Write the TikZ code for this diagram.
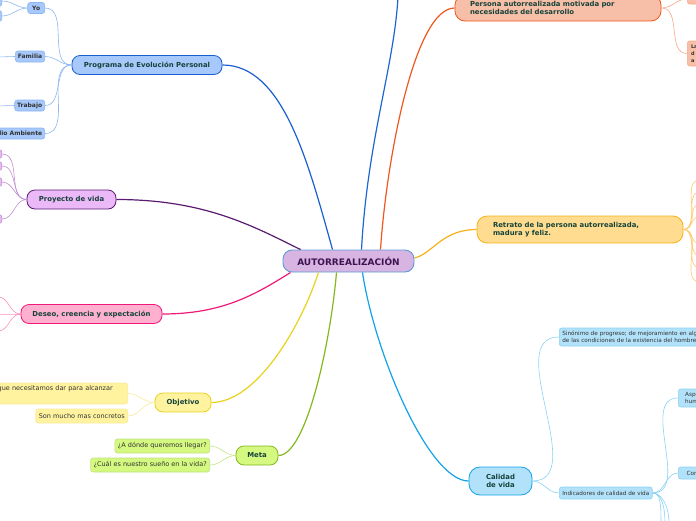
\documentclass[tikz,border=0pt]{standalone}
\usepackage{fontspec}
\setmainfont{DejaVu Sans}
\usetikzlibrary{positioning, calc}
\definecolor{RootFill}{HTML}{D8B4E2}
\definecolor{RootLine}{HTML}{5B9BD8}
\definecolor{RootText}{HTML}{3C1450}
\definecolor{MainText}{HTML}{15433A}
\definecolor{LeafText}{HTML}{333333}
\definecolor{ProgFill}{HTML}{A6C8FA}
\definecolor{ProgLine}{HTML}{1A5FD0}
\definecolor{ProgTwig}{HTML}{8DB6F0}
\definecolor{ProyFill}{HTML}{EBB8F8}
\definecolor{ProyLine}{HTML}{5A1A72}
\definecolor{ProyTwig}{HTML}{BE90D0}
\definecolor{DesFill}{HTML}{FFB0CF}
\definecolor{DesLine}{HTML}{F01878}
\definecolor{DesTwig}{HTML}{F890C0}
\definecolor{ObjFill}{HTML}{FFF3A0}
\definecolor{ObjLine}{HTML}{E8D21C}
\definecolor{ObjTwig}{HTML}{F8EA98}
\definecolor{MetaFill}{HTML}{D4F880}
\definecolor{MetaLine}{HTML}{84B81C}
\definecolor{MetaTwig}{HTML}{C0E480}
\definecolor{CalFill}{HTML}{B2E2FA}
\definecolor{CalLine}{HTML}{12A2E8}
\definecolor{CalTwig}{HTML}{8AD2F4}
\definecolor{RetFill}{HTML}{FFDC90}
\definecolor{RetLine}{HTML}{F8B018}
\definecolor{RetTwig}{HTML}{FCCC70}
\definecolor{PersFill}{HTML}{F8BFA8}
\definecolor{PersLine}{HTML}{F0561E}
\definecolor{PersTwig}{HTML}{F8A888}
\definecolor{TopBlue}{HTML}{1C66D4}

\begin{document}
\begin{tikzpicture}[
    x=1pt, y=-1pt,
    root/.style={draw=RootLine, fill=RootFill, line width=0.9pt, rounded corners=9pt,
        minimum width=131pt, minimum height=22pt, inner sep=0pt, text=RootText,
        font=\bfseries\fontsize{9}{10}\selectfont},
    branch/.style 2 args={draw=#2, fill=#1, line width=0.8pt, rounded corners=8pt,
        minimum height=19pt, inner sep=0pt, text=MainText,
        font=\bfseries\fontsize{6.9}{8.6}\selectfont},
    leaf/.style 2 args={draw=#2, fill=#1, line width=0.6pt, rounded corners=2.5pt,
        minimum height=14pt, inner xsep=3pt, inner ysep=0pt, text=LeafText,
        font=\fontsize{6.5}{8}\selectfont},
    leafb/.style={leaf={ProgFill}{ProgTwig}, minimum height=11pt, inner xsep=2.5pt,
        font=\bfseries\fontsize{6}{7}\selectfont},
    tiny/.style={leaf={CalFill}{CalTwig}, minimum height=12pt, inner xsep=3pt,
        font=\fontsize{5.7}{6.8}\selectfont},
    link/.style={line width=1.2pt},
    twig/.style={line width=0.6pt},
]
\useasboundingbox (0,0) rectangle (696,520);
\clip (0,0) rectangle (696,520);

% ===== nodo central y ramas =====
\node[root] (cent) at (348.5,261) {AUTORREALIZACIÓN};
\node[branch={ProgFill}{ProgLine}, minimum width=150pt] (prog) at (147,65) {Programa de Evolución Personal};
\node[branch={ProyFill}{ProyLine}, minimum width=89pt] (proy) at (71.5,199.5) {Proyecto de vida};
\node[branch={DesFill}{DesLine}, minimum width=141pt] (deseo) at (91.5,314) {Deseo, creencia y expectación};
\node[branch={ObjFill}{ObjLine}, minimum width=56pt] (obj) at (183,402.5) {Objetivo};
\node[branch={MetaFill}{MetaLine}, minimum width=42pt] (meta) at (257,455.5) {Meta};
\node[branch={CalFill}{CalLine}, minimum width=63pt, minimum height=28pt, rounded corners=11pt,
    align=center] (cal) at (500.5,481) {Calidad\\de vida};
\node[branch={RetFill}{RetLine}, minimum width=206pt, minimum height=27pt, rounded corners=10pt,
    text width=174pt, align=left] (retr) at (580,229.5) {Retrato de la persona autorrealizada,\\madura y feliz.};
\node[branch={PersFill}{PersLine}, minimum width=206pt, minimum height=26pt, rounded corners=10pt,
    text width=176pt, align=left] (pers) at (558,8) {Persona autorrealizada motivada por\\necesidades del desarrollo};
\coordinate (arriba) at (398,-3);

\draw[link, ProgLine] (prog.east) .. controls +(60,0) and +(-25,-90) .. ($(cent.north)+(-16,0)$);
\draw[link, ProyLine] (proy.east) .. controls +(90,0) and +(-45,-22) .. ($(cent.north west)+(18,0)$);
\draw[link, DesLine] (deseo.east) .. controls +(60,0) and +(-35,22) .. ($(cent.south west)+(8,0)$);
\draw[link, ObjLine] (obj.east) .. controls +(45,0) and +(-18,55) .. ($(cent.south)+(-30,0)$);
\draw[link, MetaLine] (meta.east) .. controls +(28,0) and +(-6,70) .. ($(cent.south)+(-12,0)$);
\draw[link, CalLine] (cal.west) .. controls +(-40,0) and +(12,80) .. ($(cent.south)+(14,0)$);
\draw[link, RetLine] (retr.west) .. controls +(-35,0) and +(18,-4) .. ($(cent.east)+(0,-3)$);
\draw[link, PersLine] (pers.west) .. controls +(-40,0) and +(6,-90) .. ($(cent.north)+(32,0)$);
\draw[link, TopBlue] ($(cent.north)+(13,0)$) .. controls +(6,-110) and +(-4,70) .. (arriba);

% ===== Programa de Evolución Personal =====
\node[leafb, anchor=east, minimum width=17pt] (yo) at (45,8) {Yo};
\node[leafb, anchor=east] (fam) at (45,56.5) {Familia};
\node[leafb, anchor=east] (trab) at (45,105.5) {Trabajo};
\node[leafb, anchor=east] (medio) at (45,133.5) {Medio Ambiente};
\node[leafb, anchor=east, minimum width=12pt] (yoa) at (2,1) {};
\node[leafb, anchor=east, minimum width=12pt] (yob) at (2,16) {};
\coordinate (famx) at (-2,57);
\coordinate (trabx) at (-2,106);
\foreach \h in {yo,fam,trab,medio}
    \draw[twig, ProgTwig] (prog.west) to[out=180,in=0] (\h.east);
\draw[twig, ProgTwig] (yo.west) to[out=180,in=0] (yoa.east);
\draw[twig, ProgTwig] (yo.west) to[out=180,in=0] (yob.east);
\draw[twig, ProgTwig] (fam.west) -- (famx);
\draw[twig, ProgTwig] (trab.west) -- (trabx);

% ===== Proyecto de vida =====
\foreach \i/\yy in {1/154,2/166,3/182,4/219}{
    \node[leaf={ProyFill}{ProyTwig}, anchor=east, minimum width=14pt, minimum height=9pt] (pv\i) at (2,\yy) {};
    \draw[twig, ProyTwig] (proy.west) to[out=180,in=0] (pv\i.east);
}

% ===== Deseo, creencia y expectación =====
\foreach \i/\yy in {1/297,2/314,3/331}{
    \coordinate (dx\i) at (-2,\yy);
    \draw[twig, DesTwig] (deseo.west) to[out=180,in=0] (dx\i);
}

% ===== Objetivo =====
\node[leaf={ObjFill}{ObjTwig}, anchor=east, minimum height=21pt, text width=127pt, align=left]
    (ob1) at (128,393.5) {que necesitamos dar para alcanzar\\\strut};
\node[leaf={ObjFill}{ObjTwig}, anchor=east] (ob2) at (128,416) {Son mucho mas concretos};
\draw[twig, ObjTwig] (obj.west) to[out=180,in=0] (ob1.east);
\draw[twig, ObjTwig] (obj.west) to[out=180,in=0] (ob2.east);

% ===== Meta =====
\node[leaf={MetaFill}{MetaTwig}, anchor=east] (m1) at (210,446) {¿A dónde queremos llegar?};
\node[leaf={MetaFill}{MetaTwig}, anchor=east] (m2) at (210,465) {¿Cuál es nuestro sueño en la vida?};
\draw[twig, MetaTwig] (meta.west) to[out=180,in=0] (m1.east);
\draw[twig, MetaTwig] (meta.west) to[out=180,in=0] (m2.east);

% ===== Calidad de vida =====
\node[tiny, anchor=west, minimum height=18pt, text width=150pt, align=left] (sin) at (559,337)
    {Sinónimo de progreso; de mejoramiento en alg\\de las condiciones de la existencia del hombre.};
\node[tiny, anchor=west] (ind) at (559,493) {Indicadores de calidad de vida};
\node[tiny, anchor=west, minimum width=30pt, minimum height=18pt, align=left] (asp) at (678,398) {Aspe\\huma};
\node[tiny, anchor=west, minimum width=30pt] (cont) at (678,473) {Cont};
\draw[twig, CalTwig] (cal.east) to[out=0,in=180] (sin.west);
\draw[twig, CalTwig] (cal.east) to[out=0,in=180] (ind.west);
\draw[twig, CalTwig] (ind.east) to[out=0,in=180] (asp.west);
\draw[twig, CalTwig] (ind.east) to[out=0,in=180] (cont.west);
\foreach \i/\xx in {1/661,2/665,3/669}{
    \coordinate (ix\i) at (\xx,524);
    \draw[twig, CalTwig] (ind.east) .. controls +(8,0) and +(0,-20) .. (ix\i);
}

% ===== Persona autorrealizada =====
\node[leaf={PersFill}{PersTwig}, anchor=west, minimum width=14pt, minimum height=10pt] (pa) at (687,-1) {};
\node[leaf={PersFill}{PersTwig}, anchor=west, minimum width=14pt, minimum height=25pt,
    font=\bfseries\fontsize{5}{7}\selectfont, align=left, inner xsep=2pt] (pb) at (687,53.5) {La\\d\\a};
\draw[twig, PersTwig] (pers.east) to[out=0,in=180] (pa.west);
\draw[twig, PersTwig] (pers.east) to[out=0,in=180] (pb.west);

% ===== Retrato: abanico hacia la derecha =====
\foreach \i/\yy in {1/180,2/192,3/204,4/216,5/244,6/256,7/268,8/282}{
    \coordinate (rf\i) at (700,\yy);
    \draw[twig, RetTwig] (retr.east) to[out=0,in=180] (rf\i);
}

\end{tikzpicture}
\end{document}
